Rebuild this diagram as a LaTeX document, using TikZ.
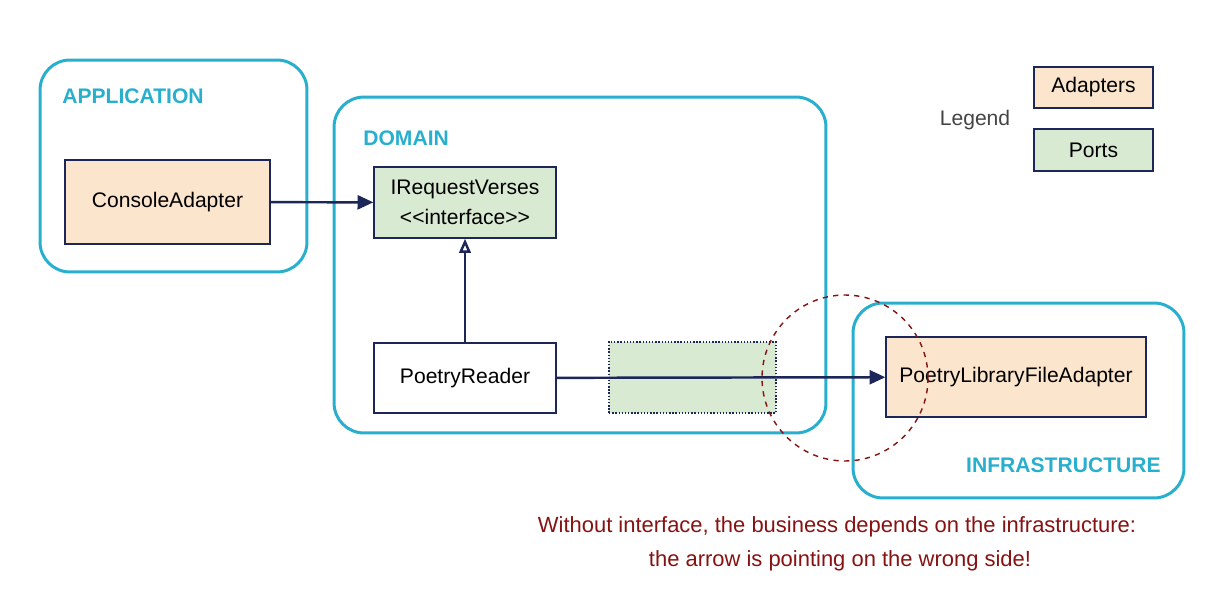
\documentclass[tikz,border=0pt]{standalone}
\usepackage{fontspec}
\setmainfont{Liberation Sans}
\usepackage{tikz}
\usetikzlibrary{arrows.meta}

\definecolor{layercyan}{HTML}{29AFCE}
\definecolor{boxnavy}{HTML}{1C2659}
\definecolor{adapterfill}{HTML}{FCE5CD}
\definecolor{portfill}{HTML}{D9EAD3}
\definecolor{warnred}{HTML}{861212}
\definecolor{legendgray}{HTML}{444444}

\tikzset{
  layer/.style={draw=layercyan, line width=1.7pt, rounded corners=0.6cm, inner sep=0pt},
  layerlabel/.style={text=layercyan, font=\fontsize{12}{14}\selectfont\bfseries, inner sep=0pt},
  comp/.style={draw=boxnavy, line width=0.8pt, inner sep=0pt, align=center, font=\fontsize{12}{16}\selectfont},
  adapter/.style={comp, fill=adapterfill},
  port/.style={comp, fill=portfill},
  dep/.style={draw=boxnavy, line width=1.4pt, -{Triangle[length=9pt,width=8pt]}},
  impl/.style={draw=boxnavy, line width=1.4pt, -{Triangle[open,length=8pt,width=6.5pt,fill=white]}}
}

\begin{document}
\begin{tikzpicture}[x=0.02cm,y=-0.02cm]
\useasboundingbox (0,0) rectangle (1216,608);
% layers
\node[layer, minimum width=5.34cm, minimum height=4.24cm] (app) at (173.5,166) {};
\node[layer, minimum width=9.84cm, minimum height=6.72cm] (domain) at (580,265) {};
\node[layer, minimum width=6.62cm, minimum height=3.9cm] (infra) at (1018.5,400.5) {};
\node[layerlabel, anchor=west] (applbl) at (62,96) {APPLICATION};
\node[layerlabel, anchor=west] (domlbl) at (363,138) {DOMAIN};
\node[layerlabel, anchor=east] (inflbl) at (1161,465) {INFRASTRUCTURE};

% missing port
\node[draw=boxnavy, densely dotted, line width=0.8pt, fill=portfill, minimum width=3.34cm, minimum height=1.42cm] (gap) at (692.5,377.5) {};

% components
\node[adapter, minimum width=4.1cm, minimum height=1.68cm] (CA) at (167.5,202) {\raisebox{-2pt}{ConsoleAdapter}};
\node[port, minimum width=3.64cm, minimum height=1.42cm] (IRV) at (465,202.5) {IRequestVerses\\\raisebox{-1pt}{<{}<interface>{}>}};
\node[comp, fill=white, minimum width=3.64cm, minimum height=1.4cm] (PR) at (465,378) {\raisebox{-2pt}{PoetryReader}};
\node[adapter, minimum width=5.2cm, minimum height=1.6cm] (PLFA) at (1016,377) {\raisebox{-2pt}{PoetryLibraryFileAdapter}};

% legend
\node[text=legendgray, font=\fontsize{12}{14}\selectfont] (leg) at (975,120) {Legend};
\node[adapter, minimum width=2.38cm, minimum height=0.82cm] (legA) at (1093.5,87.5) {\raisebox{-2pt}{Adapters}};
\node[port, minimum width=2.38cm, minimum height=0.84cm] (legP) at (1093.5,150) {\raisebox{-1pt}{Ports}};

% dependencies
\draw[dep] (CA) -- (IRV);
\draw[impl] (PR) -- (IRV);
\draw[dep] (PR) -- (PLFA);

\draw[warnred, dashed, line width=0.8pt] (845,378) circle (1.66cm);

\node[text=warnred, font=\fontsize{12.5}{14}\selectfont] (msg1) at (837,527) {Without interface, the business depends on the infrastructure:};
\node[text=warnred, font=\fontsize{12.5}{14}\selectfont] (msg2) at (840,561) {the arrow is pointing on the wrong side!};
\end{tikzpicture}
\end{document}
